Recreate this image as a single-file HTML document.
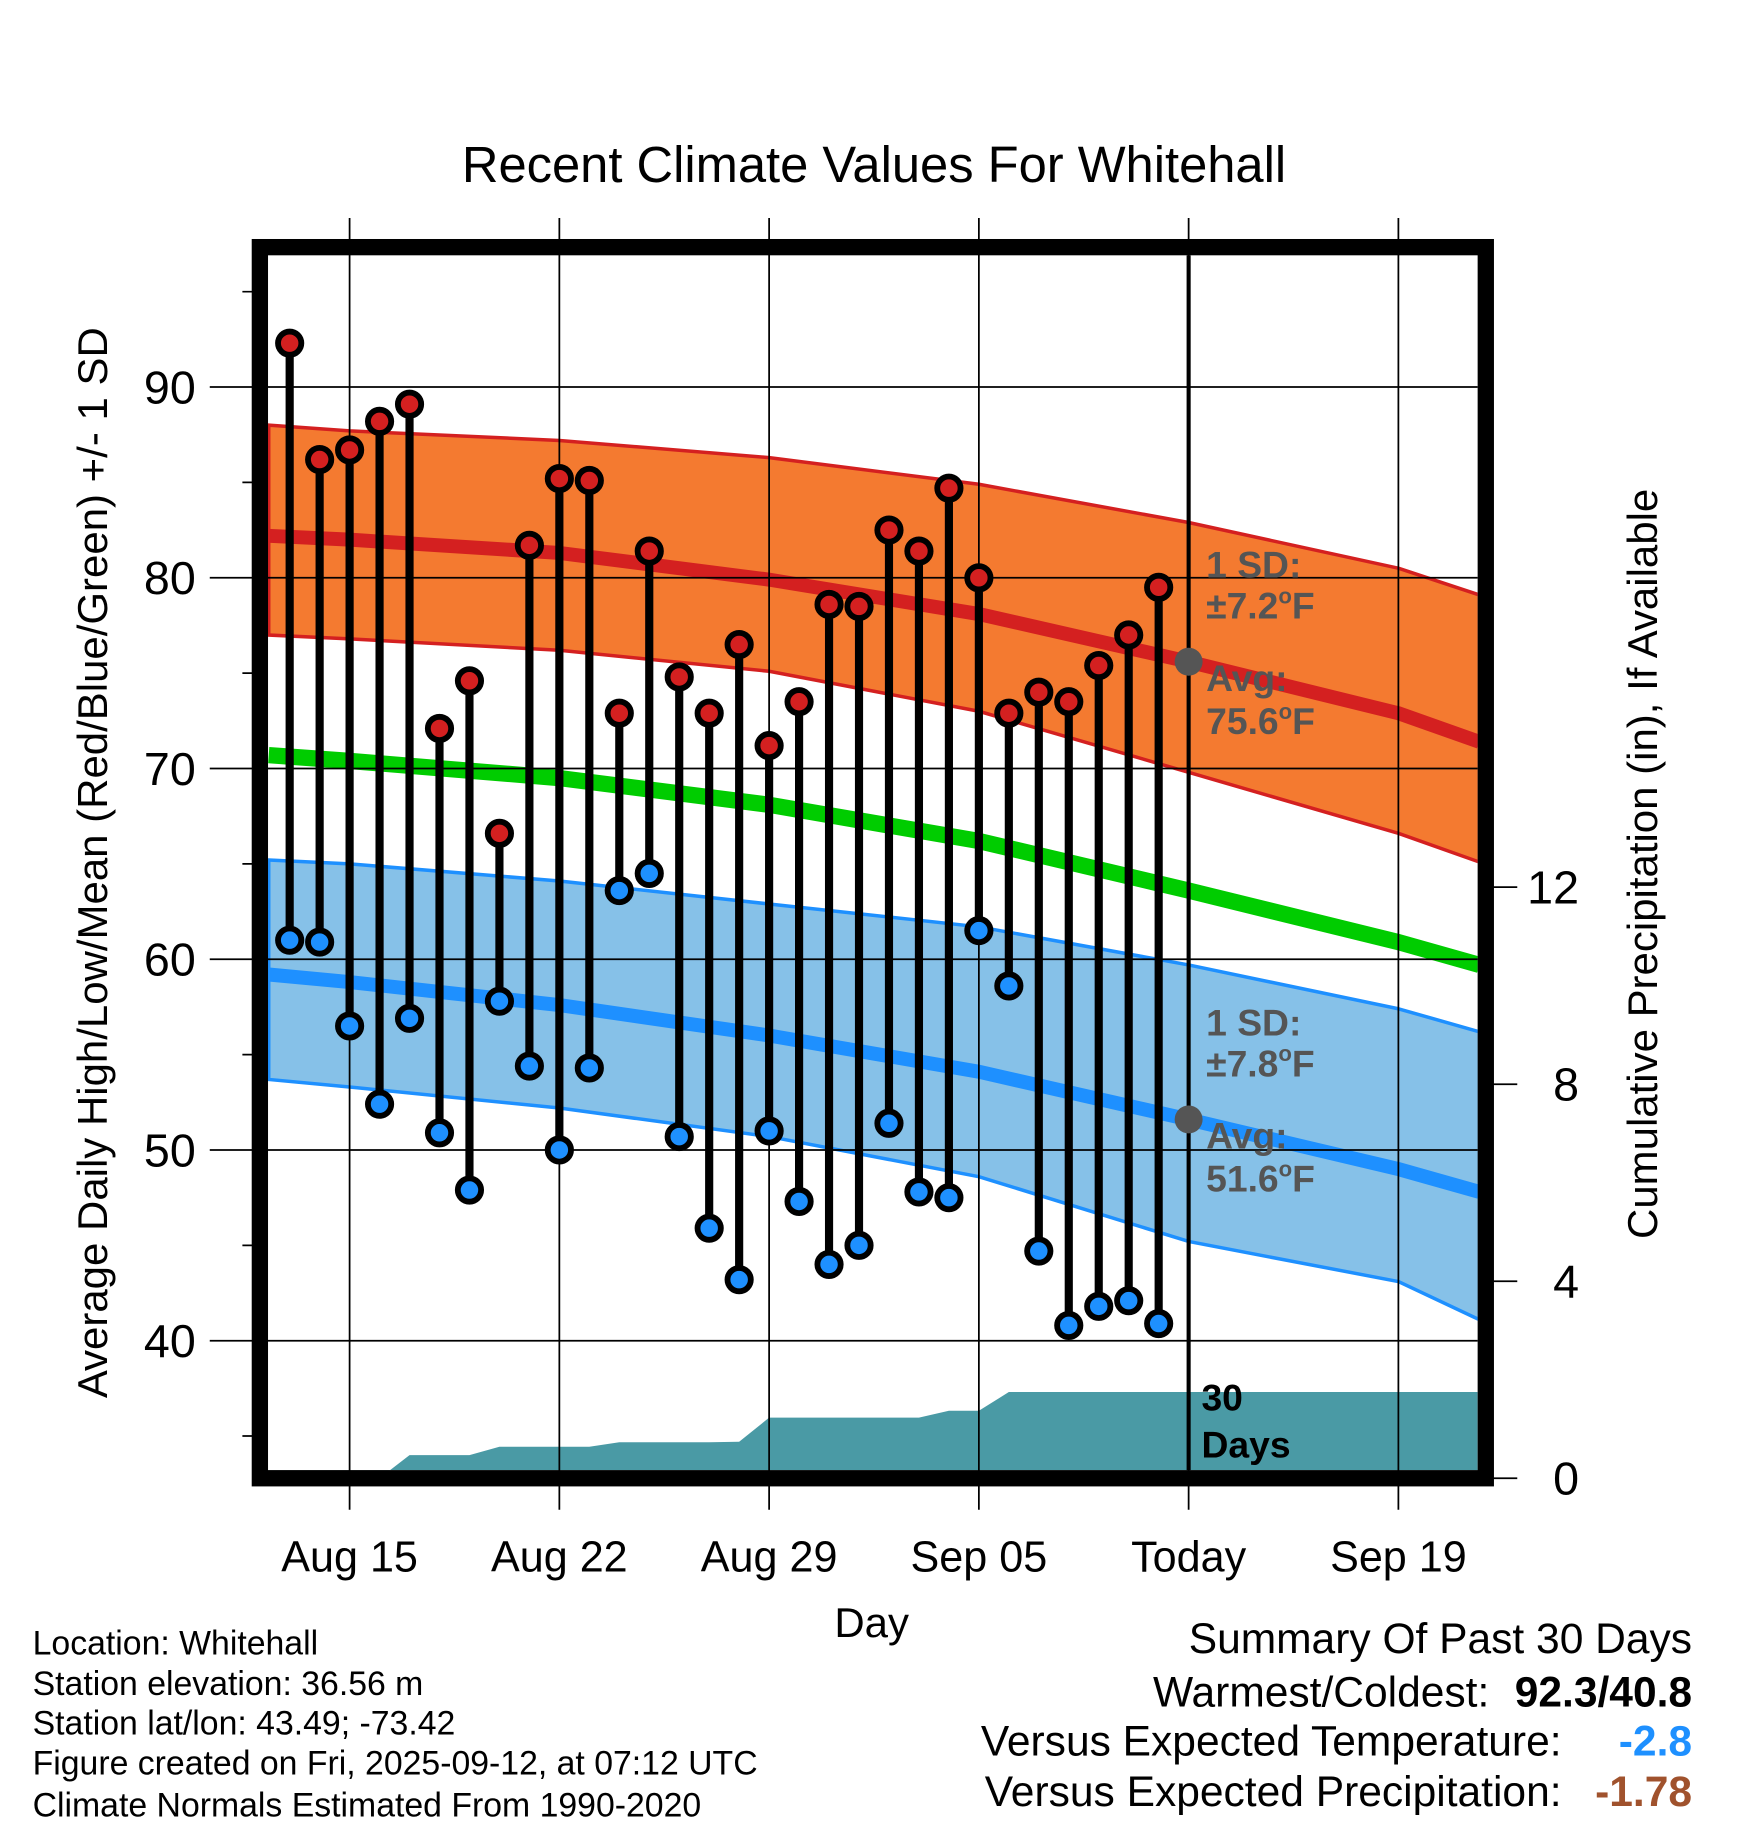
<!DOCTYPE html>
<html><head><meta charset="utf-8"><style>
html,body{margin:0;padding:0;background:#fff}
svg{display:block;font-family:"Liberation Sans",sans-serif}
</style></head><body>
<svg id="chart" width="1748" height="1828" viewBox="0 0 1500 1568" preserveAspectRatio="none" xmlns="http://www.w3.org/2000/svg">
<rect width="1500" height="1568" fill="#fff"/>
<text x="750" y="156" text-anchor="middle" font-size="43.5">Recent Climate Values For Whitehall</text>
<g id="bands"></g><g id="grid"></g><g id="marks"></g><g id="frame"></g>
<text transform="translate(92,740) rotate(-90)" text-anchor="middle" font-size="36">Average Daily High/Low/Mean (Red/Blue/Green) +/- 1 SD</text>
<text transform="translate(1422,741) rotate(-90)" text-anchor="middle" font-size="36">Cumulative Precipitation (in), If Available</text>
<text x="748" y="1404" text-anchor="middle" font-size="36">Day</text>
<g font-size="29">
<text x="28" y="1419">Location: Whitehall</text>
<text x="28" y="1454">Station elevation: 36.56 m</text>
<text x="28" y="1488">Station lat/lon: 43.49; -73.42</text>
<text x="28" y="1522">Figure created on Fri, 2025-09-12, at 07:12 UTC</text>
<text x="28" y="1558">Climate Normals Estimated From 1990-2020</text>
</g>
<g font-size="36.5" text-anchor="end">
<text x="1452" y="1418">Summary Of Past 30 Days</text>
<text x="1278" y="1464">Warmest/Coldest:</text>
<text x="1452" y="1464" font-weight="bold">92.3/40.8</text>
<text x="1340" y="1506">Versus Expected Temperature:</text>
<text x="1452" y="1506" font-weight="bold" fill="#1e90ff">-2.8</text>
<text x="1340" y="1549">Versus Expected Precipitation:</text>
<text x="1452" y="1549" font-weight="bold" fill="#a0522d">-1.78</text>
</g>
</svg>
<script>
const highs=[92.3,86.2,86.7,88.2,89.1,72.1,74.6,66.6,81.7,85.2,85.1,72.9,81.4,74.8,72.9,76.5,71.2,73.5,78.6,78.5,82.5,81.4,84.7,80.0,72.9,74.0,73.5,75.4,77.0,79.5];
const lows=[61.0,60.9,56.5,52.4,56.9,50.9,47.9,57.8,54.4,50.0,54.3,63.6,64.5,50.7,45.9,43.2,51.0,47.3,44.0,45.0,51.4,47.8,47.5,61.5,58.6,44.7,40.8,41.8,42.1,40.9];
const precip=[0,0,0,0,0.47,0.47,0.47,0.64,0.64,0.64,0.64,0.73,0.73,0.73,0.73,0.74,1.23,1.23,1.23,1.23,1.23,1.23,1.37,1.37,1.75,1.75,1.75,1.75,1.75,1.75];
const normDays=[-2.7,0,7,14,21,28,35,37.7];
const normHigh=[82.2,82.0,81.3,79.9,78.1,75.6,72.9,71.4];
const highUpper=[88.0,87.7,87.2,86.3,84.9,82.9,80.5,79.1];
const highLower=[77.0,76.8,76.2,75.1,73.0,69.8,66.6,65.1];
const normMean=[70.7,70.4,69.5,68.1,66.2,63.6,60.9,59.7];
const normLow=[59.2,58.8,57.6,56.0,54.1,51.6,49.0,47.8];
const lowUpper=[65.2,65.0,64.1,62.9,61.7,59.7,57.4,56.2];
const lowLower=[53.7,53.3,52.2,50.7,48.6,45.2,43.1,41.1];
const xTickLabels=["Aug 15","Aug 22","Aug 29","Sep 05","Today","Sep 19"];
const yTicks=[40,50,60,70,80,90];
const pTicks=[0,4,8,12];
const firstObsDay=-2;
</script>
<script>
const NS="http://www.w3.org/2000/svg";
const X=d=>300+d*25.714, Y=v=>1150-(v-40)*16.36, P=p=>1268-p*42.25;
const L=219,R=1268,T=219,B=1261;
function mk(t,a,parent){const e=document.createElementNS(NS,t);for(const k in a)e.setAttribute(k,a[k]);document.getElementById(parent).appendChild(e);return e;}
function pts(vals){return normDays.map((d,i)=>X(d).toFixed(1)+","+Y(vals[i]).toFixed(1));}
let e;
e=mk('clipPath',{id:'clip'},'bands');
const cr=document.createElementNS(NS,'rect');cr.setAttribute('x',L);cr.setAttribute('y',T);cr.setAttribute('width',R-L);cr.setAttribute('height',B-T);e.appendChild(cr);
const g=mk('g',{'clip-path':'url(#clip)'},'bands');g.id='cb';
e=mk('polygon',{points:pts(highUpper).concat(pts(highLower).reverse()).join(' '),fill:'#f47a30',stroke:'#d42020','stroke-width':3},'cb');


e=mk('polygon',{points:pts(lowUpper).concat(pts(lowLower).reverse()).join(' '),fill:'#86c1e8',stroke:'#1e90ff','stroke-width':3},'cb');


e=mk('polyline',{points:pts(normHigh).join(' '),fill:'none',stroke:'#d42020','stroke-width':12},'cb');


e=mk('polyline',{points:pts(normLow).join(' '),fill:'none',stroke:'#1e90ff','stroke-width':12},'cb');


e=mk('polyline',{points:pts(normMean).join(' '),fill:'none',stroke:'#00cc00','stroke-width':14},'cb');


let pp=[[L,B],[L,P(precip[0])]];
precip.forEach((p,i)=>{pp.push([X(firstObsDay+i),P(p)]);});
pp.push([R,P(precip[precip.length-1])]);pp.push([R,B]);
e=mk('polygon',{points:pp.map(a=>a.join(',')).join(' '),fill:'#4a9aa5'},'cb');


yTicks.forEach(v=>{
 e=mk('line',{x1:180,x2:R,y1:Y(v),y2:Y(v),stroke:'#000','stroke-width':1.5},'grid');
 
 
 e=mk('text',{x:168,y:Y(v)+14,'text-anchor':'end','font-size':40},'grid');e.textContent=v;
 
 
});
for(let v=35;v<=95;v+=10){mk('line',{x1:208,x2:223,y1:Y(v),y2:Y(v),stroke:'#000','stroke-width':1.5},'grid');}
xTickLabels.forEach((s,i)=>{
 const x=X(i*7);
 e=mk('line',{x1:x,x2:x,y1:187,y2:1295,stroke:'#000','stroke-width':1.5},'grid');
 
 
 e=mk('text',{x:x,y:1348,'text-anchor':'middle','font-size':37},'grid');e.textContent=s;
 
 
});
pTicks.forEach(p=>{
 mk('line',{x1:1275,x2:1302,y1:P(p),y2:P(p),stroke:'#000','stroke-width':1.5},'grid');
 e=mk('text',{x:1355,y:P(p)+14,'text-anchor':'end','font-size':40},'grid');e.textContent=p;
 
 
});
e=mk('line',{x1:X(28),x2:X(28),y1:T,y2:B,stroke:'#000','stroke-width':3.5},'marks');


function lab(t,x,y,fill,name){const el=mk('text',{x:x,y:y,'font-size':32,'font-weight':'bold',fill:fill},'marks');el.innerHTML=t;
 
 }
const tx=X(28)+15;
const deg='<tspan font-size="19" dy="-13">o</tspan><tspan dy="13">F</tspan>';
lab('1 SD:',tx,Y(normHigh[5])-72,'#555','high-sd-label');
lab('±7.2'+deg,tx,Y(normHigh[5])-37,'#555','high-sd-value');
lab('Avg:',tx,Y(normHigh[5])+25,'#555','high-avg-label');
lab('75.6'+deg,tx,Y(normHigh[5])+62,'#555','high-avg-value');
lab('1 SD:',tx,Y(normLow[5])-72,'#555','low-sd-label');
lab('±7.8'+deg,tx,Y(normLow[5])-37,'#555','low-sd-value');
lab('Avg:',tx,Y(normLow[5])+25,'#555','low-avg-label');
lab('51.6'+deg,tx,Y(normLow[5])+62,'#555','low-avg-value');
lab('30',X(28)+11,1210,'#000','days-label');
lab('Days',X(28)+11,1250,'#000','days-label-2');
e=mk('circle',{cx:X(28),cy:Y(normHigh[5]),r:12,fill:'#555'},'marks');


e=mk('circle',{cx:X(28),cy:Y(normLow[5]),r:12,fill:'#555'},'marks');


highs.forEach((h,i)=>{
 const x=X(firstObsDay+i);
 e=mk('line',{x1:x,x2:x,y1:Y(h),y2:Y(lows[i]),stroke:'#000','stroke-width':7},'marks');
 
 
 e=mk('circle',{cx:x,cy:Y(h),r:10,fill:'#d42020',stroke:'#000','stroke-width':5},'marks');
 
 
 e=mk('circle',{cx:x,cy:Y(lows[i]),r:10,fill:'#1e90ff',stroke:'#000','stroke-width':5},'marks');
 
 
});
e=mk('rect',{x:223,y:212,width:1052,height:1056,fill:'none',stroke:'#000','stroke-width':14},'frame');


</script>
</body></html>
